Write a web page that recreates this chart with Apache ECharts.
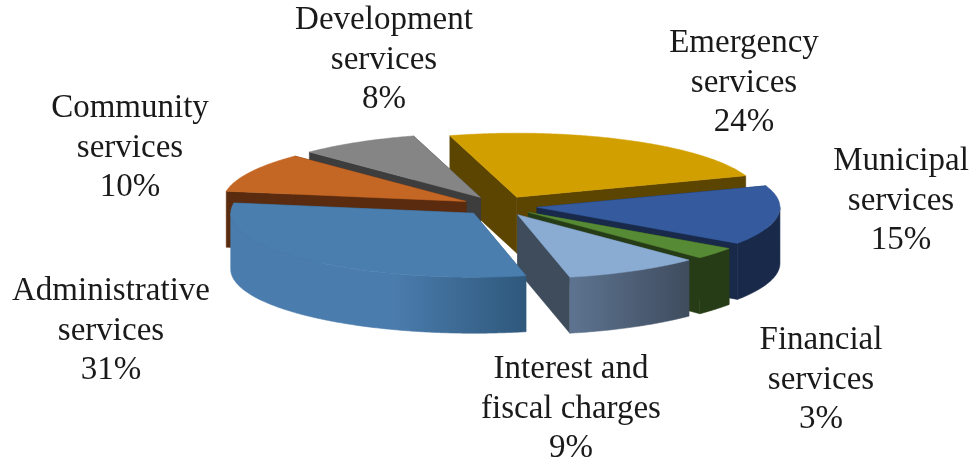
<!DOCTYPE html>
<html>
<head>
<meta charset="utf-8">
<style>html,body{margin:0;padding:0;background:#fff}#chart{width:971px;height:459px}</style>
<script src="https://cdn.jsdelivr.net/npm/echarts@6/dist/echarts.min.js"></script>
</head>
<body>
<div id="chart"></div>
<script>
// Share of municipal spending by service, clockwise from the first slice
const categories = [
  'Emergency\nservices', 'Municipal\nservices', 'Financial\nservices',
  'Interest and\nfiscal charges', 'Administrative\nservices',
  'Community\nservices', 'Development\nservices'
];
const shares = [24, 15, 3, 9, 31, 10, 8];

// Back-to-front painting order of the slices (indices into categories)
const paintOrder = [0, 6, 5, 1, 2, 3, 4];

// Face colours per slice: top, cut walls, rim (left and right of the rim gradient)
const topColors  = ['#d29f00', '#355a9e', '#578a35', '#8aacd2', '#4a7eae', '#c46725', '#858585'];
const wallColors = ['#5c4500', '#18294a', '#263c17', '#3e4c5c', '#30597c', '#5a2b0e', '#3d3d3d'];
const rimLeft    = ['#5c4500', '#18294a', '#263c17', '#5c728e', '#4a7cad', '#5a2b0e', '#3d3d3d'];
const rimRight   = ['#5c4500', '#18294a', '#263c17', '#3f4c5e', '#2f587b', '#5a2b0e', '#3d3d3d'];
const rimHold    = [0, 0, 0, 0.05, 0.55, 0, 0];

// Label centres in page pixels
const labelX = [744, 901, 821, 571, 111, 130, 384];
const labelY = [83, 201, 380, 409, 331, 148, 60];

// Oblique projection of the pie
const cx = 499.6, cy = 206, rx = 243, ry = 64, depth = 56, explode = 0.155, startDeg = -16;

const total = shares.reduce((a, b) => a + b, 0);
const rad = d => d * Math.PI / 180;
const onPlane = (deg, r) => [r * rx * Math.sin(rad(deg)), -r * ry * Math.cos(rad(deg))];

function sliceElements(i) {
  const before = shares.slice(0, i).reduce((a, b) => a + b, 0);
  const a0 = startDeg + before / total * 360;
  const a1 = a0 + shares[i] / total * 360;
  const off = onPlane((a0 + a1) / 2, explode);
  const apex = [cx + off[0], cy + off[1]];
  const at = deg => { const p = onPlane(deg, 1); return [apex[0] + p[0], apex[1] + p[1]]; };
  const drop = p => [p[0], p[1] + depth];

  const arc = [];
  for (let d = a0; d < a1; d += 0.5) arc.push(at(d));
  arc.push(at(a1));

  const flat = (points, fill) => ({
    type: 'polygon', shape: { points }, style: { fill, stroke: fill, lineWidth: 0.5 }
  });
  const els = [
    flat([apex, arc[0], drop(arc[0]), drop(apex)], wallColors[i]),
    flat([apex, arc[arc.length - 1], drop(arc[arc.length - 1]), drop(apex)], wallColors[i])
  ];

  // The rim only shows on the near half of the ellipse
  const lo = Math.max(a0, 90), hi = Math.min(a1, 270);
  if (lo < hi) {
    const front = [];
    for (let d = lo; d < hi; d += 0.5) front.push(at(d));
    front.push(at(hi));
    // Lighter on the viewer's left, darker towards the right
    const rimFill = new echarts.graphic.LinearGradient(1, 0, 0, 0, [
      { offset: 0, color: rimRight[i] },
      { offset: 1 - rimHold[i], color: rimLeft[i] },
      { offset: 1, color: rimLeft[i] }
    ]);
    els.push({
      type: 'polygon',
      shape: { points: front.concat(front.slice().reverse().map(drop)) },
      style: { fill: rimFill, stroke: rimFill, lineWidth: 0.6 }
    });
  }

  els.push(flat([apex].concat(arc), topColors[i]));
  els.push({
    type: 'text',
    style: {
      text: categories[i] + '\n' + shares[i] + '%',
      x: labelX[i], y: labelY[i], align: 'center', verticalAlign: 'middle',
      fontFamily: '"Liberation Serif", serif', fontSize: 33, lineHeight: 39.5, fill: '#1a1a1a'
    }
  });
  return els;
}

const chart = echarts.init(document.getElementById('chart'), null, { renderer: 'canvas' });
chart.setOption({
  animation: false,
  backgroundColor: '#fff',
  series: [{
    type: 'custom',
    coordinateSystem: 'none',
    data: paintOrder.map(i => [i, shares[i]]),
    renderItem: (params, api) => ({ type: 'group', children: sliceElements(api.value(0)) })
  }]
});
</script>
</body>
</html>
